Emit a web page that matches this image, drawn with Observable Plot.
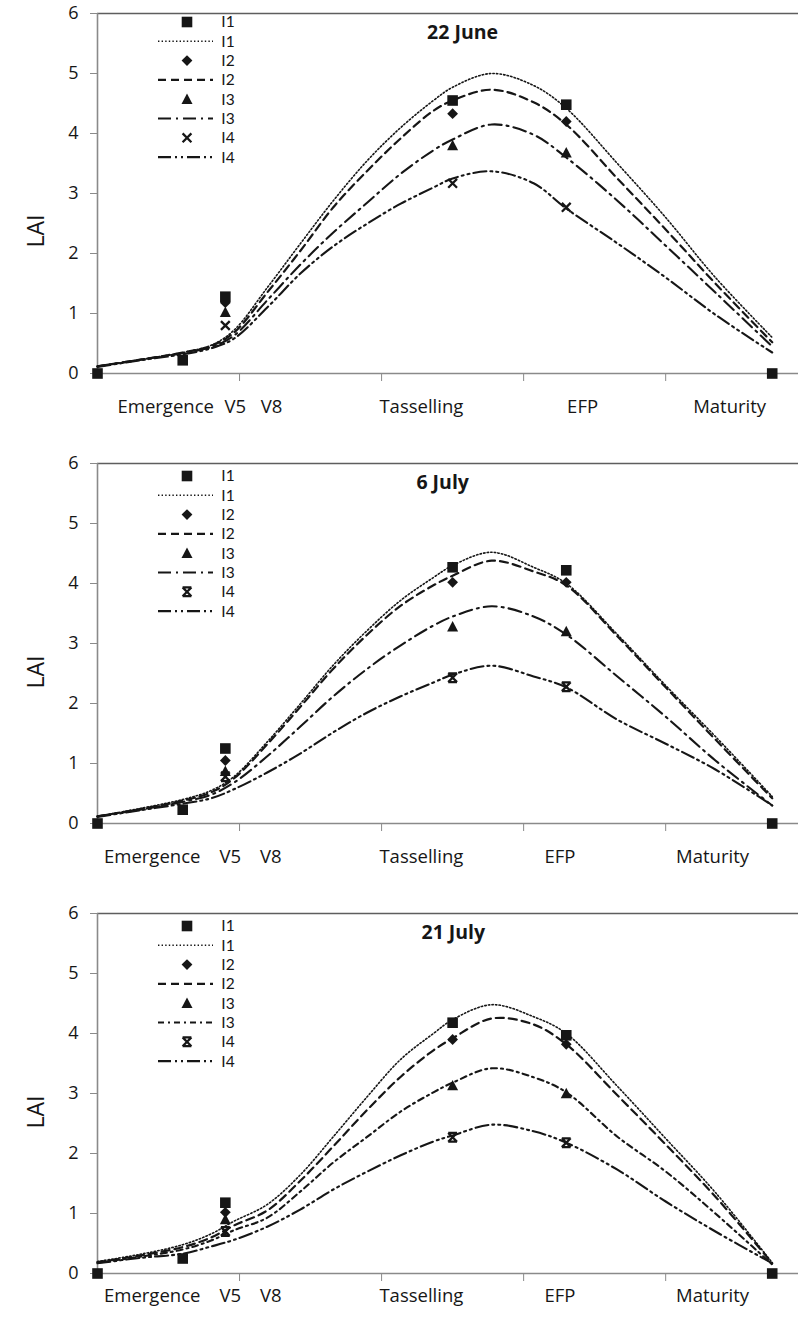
<!DOCTYPE html>
<html>
<head>
<meta charset="utf-8">
<script src="https://cdn.jsdelivr.net/npm/d3@7"></script>
<script src="https://cdn.jsdelivr.net/npm/@observablehq/plot@0.6"></script>
<style>
  body { margin: 0; background: #fff; }
  #chart svg { display: block; }
</style>
</head>
<body>
<div id="chart"></div>
<script>
// ---------- DATA ----------
const seriesNames = ["I1", "I2", "I3", "I4"];
const yTicks = [0, 1, 2, 3, 4, 5, 6];
const xTicks = [20, 40, 60, 80];             // days after sowing (unlabelled ticks)
const stageNames = ["Emergence", "V5", "V8", "Tasselling", "EFP", "Maturity"];
const stageDaysA = [9.6, 19.4, 24.5, 45.6, 68.3, 89.0];   // 22 June panel
const stageDaysB = [7.7, 18.7, 24.4, 45.6, 65.1, 86.6];   // 6 July & 21 July panels

// simulated curves (days after sowing)
const simDays = [0, 6, 12, 16, 19.2, 23.9, 28.6, 33.2, 38, 42.7, 47.3, 50, 55.5, 61.4, 66, 73.2, 80, 87, 95];

const june22_I1_sim = [0.12, 0.23, 0.35, 0.47, 0.72, 1.43, 2.17, 2.88, 3.55, 4.10, 4.55, 4.77, 5.00, 4.80, 4.42, 3.50, 2.60, 1.60, 0.60];
const june22_I2_sim = [0.12, 0.23, 0.35, 0.46, 0.68, 1.35, 2.05, 2.77, 3.38, 3.92, 4.38, 4.55, 4.73, 4.52, 4.15, 3.25, 2.40, 1.50, 0.52];
const june22_I3_sim = [0.12, 0.23, 0.34, 0.44, 0.63, 1.22, 1.82, 2.35, 2.85, 3.33, 3.72, 3.90, 4.15, 3.98, 3.60, 2.88, 2.13, 1.35, 0.45];
const june22_I4_sim = [0.11, 0.22, 0.32, 0.42, 0.58, 1.10, 1.67, 2.12, 2.50, 2.83, 3.10, 3.25, 3.37, 3.17, 2.75, 2.17, 1.60, 0.98, 0.35];

const july6_I1_sim = [0.12, 0.25, 0.40, 0.55, 0.78, 1.36, 2.00, 2.64, 3.22, 3.72, 4.10, 4.30, 4.52, 4.27, 4.00, 3.15, 2.30, 1.45, 0.45];
const july6_I2_sim = [0.12, 0.24, 0.38, 0.52, 0.75, 1.32, 1.95, 2.58, 3.15, 3.63, 3.97, 4.13, 4.38, 4.20, 3.97, 3.12, 2.27, 1.40, 0.42];
const july6_I3_sim = [0.12, 0.23, 0.36, 0.48, 0.68, 1.12, 1.62, 2.12, 2.58, 2.97, 3.30, 3.45, 3.62, 3.45, 3.15, 2.45, 1.78, 1.05, 0.30];
const july6_I4_sim = [0.11, 0.22, 0.33, 0.42, 0.57, 0.85, 1.17, 1.52, 1.85, 2.12, 2.35, 2.48, 2.63, 2.45, 2.27, 1.73, 1.33, 0.90, 0.30];

const july21_I1_sim = [0.20, 0.32, 0.48, 0.66, 0.87, 1.15, 1.65, 2.28, 2.95, 3.57, 4.00, 4.23, 4.48, 4.28, 4.00, 3.12, 2.25, 1.35, 0.18];
const july21_I2_sim = [0.19, 0.30, 0.44, 0.60, 0.80, 1.05, 1.55, 2.12, 2.73, 3.28, 3.72, 3.92, 4.25, 4.15, 3.82, 2.97, 2.15, 1.28, 0.17];
const july21_I3_sim = [0.18, 0.28, 0.40, 0.55, 0.72, 0.93, 1.37, 1.85, 2.28, 2.70, 3.02, 3.18, 3.42, 3.27, 3.02, 2.28, 1.70, 1.00, 0.15];
const july21_I4_sim = [0.17, 0.26, 0.33, 0.45, 0.56, 0.78, 1.07, 1.40, 1.70, 1.97, 2.20, 2.30, 2.48, 2.37, 2.18, 1.73, 1.20, 0.70, 0.17];

// observed LAI
const obsDaysI1 = [0, 12, 18, 50, 66, 95];
const obsDaysOther = [18, 50, 66];

const june22_I1_obs = [0, 0.22, 1.28, 4.55, 4.48, 0];
const june22_I2_obs = [1.18, 4.33, 4.20];
const june22_I3_obs = [1.02, 3.80, 3.68];
const june22_I4_obs = [0.80, 3.17, 2.77];

const july6_I1_obs = [0, 0.23, 1.25, 4.27, 4.22, 0];
const july6_I2_obs = [1.05, 4.02, 4.02];
const july6_I3_obs = [0.87, 3.28, 3.20];
const july6_I4_obs = [0.78, 2.43, 2.28];

const july21_I1_obs = [0, 0.25, 1.18, 4.18, 3.97, 0];
const july21_I2_obs = [1.02, 3.90, 3.82];
const july21_I3_obs = [0.90, 3.13, 3.00];
const july21_I4_obs = [0.70, 2.27, 2.18];

// ---------- STYLE ----------
const FONT = "'Open Sans', 'Noto Sans', sans-serif";
const LEGEND_FONT = "Lato, 'Open Sans', sans-serif";
const INK = "#161616";
const AXIS = "#8a8a8a";

function sz(size) { return Math.sqrt(size / Math.PI); }
const symSquare = { draw(c, size) { const s = sz(size); c.rect(-s, -s, 2 * s, 2 * s); } };
const symDiamond = { draw(c, size) { const s = sz(size); c.moveTo(0, -s); c.lineTo(s, 0); c.lineTo(0, s); c.lineTo(-s, 0); c.closePath(); } };
const symTriangle = { draw(c, size) { const s = sz(size); c.moveTo(0, -s * 1.05); c.lineTo(s, s * 0.85); c.lineTo(-s, s * 0.85); c.closePath(); } };
const symTimes = { draw(c, size) { const s = sz(size); c.moveTo(-s, -s); c.lineTo(s, s); c.moveTo(s, -s); c.lineTo(-s, s); } };
const symHourglass = { draw(c, size) { const s = sz(size); c.moveTo(-s, -s); c.lineTo(s, s); c.moveTo(s, -s); c.lineTo(-s, s); c.moveTo(-s, -s); c.lineTo(s, -s); c.moveTo(-s, s); c.lineTo(s, s); } };

const lineStyle = {
  I1: { dash: "1.4,2.2", width: 1.6 },
  I2: { dash: "8,5", width: 2.2 },
  I3long: { dash: "13,5,2,5", width: 2.1 },
  I3short: { dash: "6,4,2,4", width: 2.1 },
  I4: { dash: "13,4,2,4,2,4", width: 2.1 }
};

const panels = [
  { title: "22 June", titleDay: 51.4, height: 450, stageDays: stageDaysA, stageDy: 34, laiDy: 54, legendTop: 22,
    sim: [june22_I1_sim, june22_I2_sim, june22_I3_sim, june22_I4_sim],
    obs: [june22_I1_obs, june22_I2_obs, june22_I3_obs, june22_I4_obs],
    styles: [lineStyle.I1, lineStyle.I2, lineStyle.I3long, lineStyle.I4], xSym: symTimes },
  { title: "6 July", titleDay: 48.6, height: 450, stageDays: stageDaysB, stageDy: 34, laiDy: 45, legendTop: 26,
    sim: [july6_I1_sim, july6_I2_sim, july6_I3_sim, july6_I4_sim],
    obs: [july6_I1_obs, july6_I2_obs, july6_I3_obs, july6_I4_obs],
    styles: [lineStyle.I1, lineStyle.I2, lineStyle.I3long, lineStyle.I4], xSym: symHourglass },
  { title: "21 July", titleDay: 50.1, height: 420, stageDays: stageDaysB, stageDy: 23, laiDy: 35, legendTop: 26,
    sim: [july21_I1_sim, july21_I2_sim, july21_I3_sim, july21_I4_sim],
    obs: [july21_I1_obs, july21_I2_obs, july21_I3_obs, july21_I4_obs],
    styles: [lineStyle.I1, lineStyle.I2, lineStyle.I3short, lineStyle.I4], xSym: symHourglass }
];

function markerSpec(p, k) {
  if (k === 0) return { sym: symSquare, r: 5.3, fill: INK, stroke: "none", sw: 0 };
  if (k === 1) return { sym: symDiamond, r: 5.4, fill: INK, stroke: "none", sw: 0 };
  if (k === 2) return { sym: symTriangle, r: 5.5, fill: INK, stroke: "none", sw: 0 };
  return { sym: p.xSym, r: 4.4, fill: "none", stroke: INK, sw: 2.3 };
}

function makePanel(p) {
  const marks = [
    Plot.ruleY([6], { stroke: "#5e5e5e", strokeWidth: 1.6 }),
    Plot.ruleY([0], { stroke: AXIS, strokeWidth: 1.6 }),
    Plot.ruleX([0], { stroke: AXIS, strokeWidth: 1.6 }),
    Plot.axisY({ ticks: yTicks, tickSize: 7, tickPadding: 12, fontSize: 18, stroke: AXIS, fill: INK, label: null, tickFormat: d => String(d) }),
    Plot.axisX({ ticks: xTicks, tickSize: 8, stroke: AXIS, tickFormat: () => "", label: null })
  ];
  // simulated lines
  p.sim.forEach((vals, k) => {
    const st = p.styles[k];
    marks.push(Plot.line(simDays, {
      x: d => d, y: (d, i) => vals[i], curve: "catmull-rom",
      stroke: INK, strokeWidth: st.width, strokeDasharray: st.dash
    }));
  });
  // observed markers (I4 first so I1 squares lie on top)
  for (let k = 3; k >= 0; k--) {
    const days = k === 0 ? obsDaysI1 : obsDaysOther;
    const vals = p.obs[k];
    const m = markerSpec(p, k);
    marks.push(Plot.dot(days, {
      x: d => d, y: (d, i) => vals[i], symbol: m.sym, r: m.r,
      fill: m.fill, stroke: m.stroke, strokeWidth: m.sw
    }));
  }
  // stage labels under the x axis
  marks.push(Plot.text(stageNames, {
    x: (d, i) => p.stageDays[i], frameAnchor: "bottom", dy: p.stageDy,
    lineAnchor: "middle", fontSize: 18.5, fill: INK, text: d => d
  }));
  // title
  marks.push(Plot.text([p.title], {
    x: () => p.titleDay, frameAnchor: "top", dy: 19.5, lineAnchor: "middle",
    fontSize: 19.5, fontWeight: "bold", fill: INK, text: d => d
  }));
  // y label
  marks.push(Plot.text(["LAI"], {
    frameAnchor: "left", dx: -61, dy: p.laiDy, rotate: -90, lineAnchor: "middle",
    fontSize: 23, fill: INK, text: d => d
  }));

  const svg = Plot.plot({
    width: 798, height: p.height,
    marginLeft: 97, marginRight: 0, marginTop: 13, marginBottom: p.height - 373,
    x: { domain: [0, 98.7] },
    y: { domain: [0, 6] },
    style: { fontFamily: FONT, background: "#fff", overflow: "visible", color: INK },
    marks
  });

  // legend (inside the plot area, top-left)
  const g = d3.select(svg).append("g")
    .attr("font-family", LEGEND_FONT).attr("font-size", 15.5).attr("fill", INK);
  const rows = [];
  seriesNames.forEach((name, k) => {
    rows.push({ kind: "marker", k, name });
    rows.push({ kind: "line", k, name });
  });
  rows.forEach((row, j) => {
    const cy = p.legendTop + j * 19.3;
    if (row.kind === "marker") {
      const m = markerSpec(p, row.k);
      g.append("path")
        .attr("transform", `translate(187,${cy})`)
        .attr("d", d3.symbol(m.sym, m.r * m.r * Math.PI)())
        .attr("fill", m.fill).attr("stroke", m.stroke).attr("stroke-width", m.sw);
    } else {
      const st = p.styles[row.k];
      g.append("line")
        .attr("x1", 158).attr("x2", 213).attr("y1", cy).attr("y2", cy)
        .attr("stroke", INK).attr("stroke-width", st.width).attr("stroke-dasharray", st.dash);
    }
    g.append("text").attr("x", 228).attr("y", cy).attr("dy", "0.35em").text(row.name);
  });
  return svg;
}

const root = document.getElementById("chart");
panels.forEach(p => root.appendChild(makePanel(p)));
</script>
</body>
</html>
